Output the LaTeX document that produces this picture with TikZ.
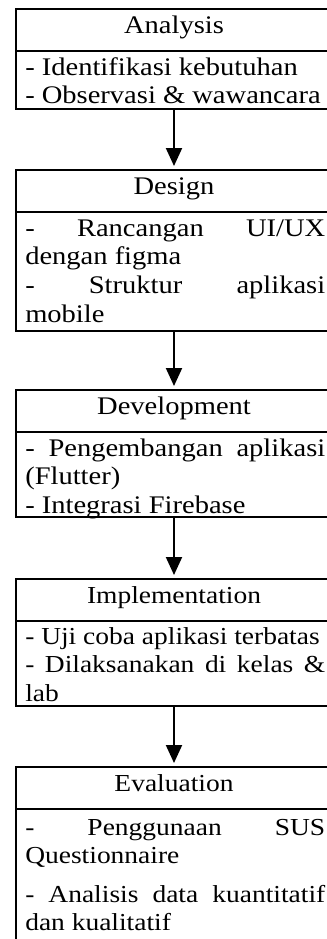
\documentclass[tikz,border=0pt]{standalone}
\usepackage{fontspec}
\setmainfont{Liberation Serif}[FakeStretch=1.126]
\usetikzlibrary{arrows.meta}
\newcommand\bigtxt{\fontsize{19}{21.6}\selectfont}
\newcommand\smalltxt{\fontsize{18.3}{21.4}\selectfont}
\tolerance=10000
\hyphenpenalty=10000
\hbadness=10000
\tikzset{
  headbox/.style={draw, line width=1.5pt, outer sep=0pt, anchor=north, minimum width=237pt,
    minimum height=31.5pt, text height=12pt, text depth=7.5pt, inner ysep=6pt},
  bodybox/.style={draw, line width=1.5pt, outer sep=0pt, anchor=north, minimum width=237pt},
  bodytext/.style={anchor=base west, inner sep=0pt, text width=225pt, align=justify},
  flow/.style={-{Triangle[width=12pt,length=13.5pt]}, line width=1.5pt, shorten >=3pt}
}
\begin{document}
\begin{tikzpicture}[x=0.75pt,y=-0.75pt]
    \useasboundingbox (0,0) rectangle (327,939);
    \clip (0,0) rectangle (327,939);
    % analysis
    \node[headbox, font=\bigtxt] (ana-head) at (174,9) {Analysis};
    \node[bodybox, minimum height=43.5pt] (ana-body) at (ana-head.south) {};
    \node[bodytext, font=\bigtxt] (ana-text) at ([shift={(9,24)}]ana-body.north west)
        {- Identifikasi kebutuhan\\- Observasi \& wawancara};
    % design
    \node[headbox, font=\bigtxt] (des-head) at (174,170) {Design};
    \node[bodybox, minimum height=89.25pt] (des-body) at (des-head.south) {};
    \node[bodytext, font=\bigtxt] (des-text) at ([shift={(9,24)}]des-body.north west)
        {- Rancangan UI/UX\linebreak dengan figma\\- Struktur aplikasi\linebreak mobile};
    % development
    \node[headbox, font=\bigtxt] (dev-head) at (174,390) {Development};
    \node[bodybox, minimum height=63.75pt] (dev-body) at (dev-head.south) {};
    \node[bodytext, font=\bigtxt] (dev-text) at ([shift={(9,24)}]dev-body.north west)
        {- Pengembangan aplikasi\linebreak (Flutter)\\- Integrasi Firebase};
    % implementation
    \node[headbox, font=\smalltxt] (imp-head) at (174,579) {Implementation};
    \node[bodybox, minimum height=63.75pt] (imp-body) at (imp-head.south) {};
    \node[bodytext, font=\smalltxt] (imp-text) at ([shift={(9,23)}]imp-body.north west)
        {- Uji coba aplikasi terbatas\\- Dilaksanakan di kelas \&\linebreak lab};
    % evaluation
    \node[headbox, font=\smalltxt, minimum height=30.75pt] (eva-head) at (174,767) {Evaluation};
    \node[bodybox, minimum height=105pt] (eva-body) at (eva-head.south) {};
    \node[bodytext, font=\smalltxt] (eva-text) at ([shift={(9,26)}]eva-body.north west)
        {- Penggunaan SUS\linebreak Questionnaire\\[7.5pt]- Analisis data kuantitatif\linebreak dan kualitatif};
    % arrows
    \draw[flow] (ana-body) -- (des-head);
    \draw[flow] (des-body) -- (dev-head);
    \draw[flow] (dev-body) -- (imp-head);
    \draw[flow] (imp-body) -- (eva-head);
\end{tikzpicture}
\end{document}
